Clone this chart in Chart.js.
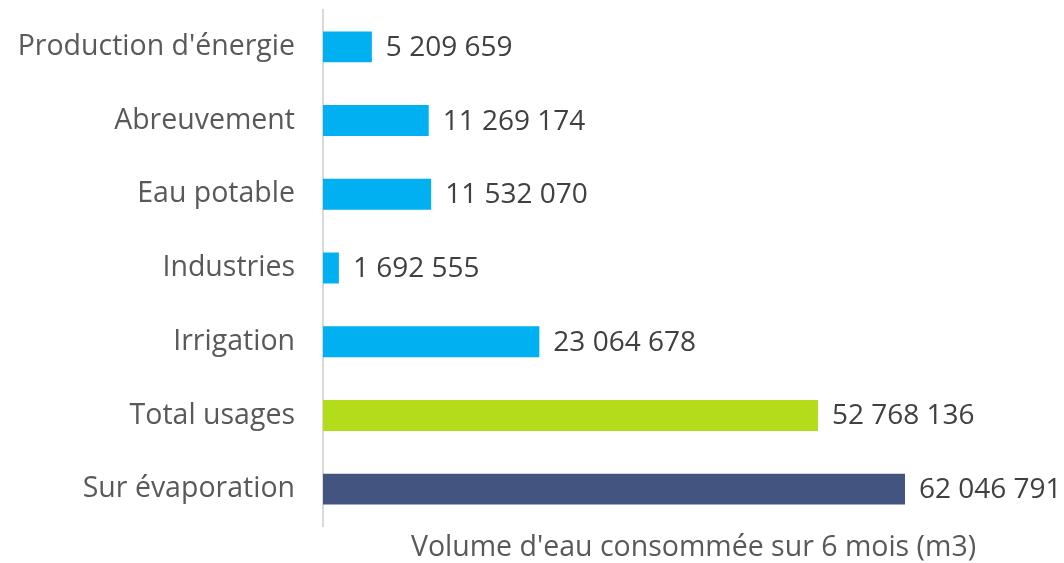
<!DOCTYPE html>
<html>
<head>
<meta charset="utf-8">
<script src="https://cdn.jsdelivr.net/npm/chart.js@4/dist/chart.umd.min.js"></script>
<style>
  html, body { margin: 0; padding: 0; background: #fff; }
  #wrap { width: 1064px; height: 563px; }
</style>
</head>
<body>
<div id="wrap"><canvas id="chart"></canvas></div>
<script>
/* values */
var categories = ["Production d'énergie", "Abreuvement", "Eau potable", "Industries", "Irrigation", "Total usages", "Sur évaporation"];
var volumes = [5209659, 11269174, 11532070, 1692555, 23064678, 52768136, 62046791];
var barColors = ["#00b0f0", "#00b0f0", "#00b0f0", "#00b0f0", "#00b0f0", "#b3dc1a", "#42547f"];
var axisTitle = "Volume d'eau consommée sur 6 mois (m3)";

var FONT = "'Open Sans', sans-serif";

function fmt(n) {
	return String(n).replace(/\B(?=(\d{3})+(?!\d))/g, " ");
}

/* value next to the end of each bar */
var valueLabels = {
	id: 'valueLabels',
	afterDatasetsDraw: function(chart) {
		var ctx = chart.ctx;
		var meta = chart.getDatasetMeta(0);
		ctx.save();
		ctx.font = "28px " + FONT;
		ctx.fillStyle = "#404040";
		ctx.textBaseline = "middle";
		ctx.textAlign = "left";
		meta.data.forEach(function(bar, i) {
			ctx.fillText(fmt(volumes[i]), bar.x + 14, bar.y + 1);
		});
		ctx.restore();
	}
};

var ctx = document.getElementById("chart");
var myChart = new Chart(ctx, {
	type: 'bar',
	data: {
		labels: categories,
		datasets: [{
			data: volumes,
			backgroundColor: barColors,
			barPercentage: 0.42,
			categoryPercentage: 1
		}]
	},
	options: {
		indexAxis: 'y',
		responsive: true,
		maintainAspectRatio: false,
		animation: false,
		layout: { padding: { top: 10, right: 0, left: 5, bottom: 0 } },
		plugins: {
			legend: { display: false },
			tooltip: { enabled: false }
		},
		scales: {
			x: {
				min: 0,
				max: 79000000,
				grid: { display: false },
				border: { display: false },
				ticks: { display: false },
				title: {
					display: true,
					text: axisTitle,
					color: "#595959",
					font: { family: FONT, size: 28.5, lineHeight: 1 },
					padding: { top: 8, bottom: 1 }
				},
				afterFit: function(scale) { scale.height = 37; }
			},
			y: {
				grid: { display: true, drawOnChartArea: false, drawTicks: true, tickLength: 45, tickColor: 'rgba(0,0,0,0)' },
				border: { display: true, color: "#d9d9d9", width: 2 },
				ticks: {
					color: "#595959",
					font: { family: FONT, size: 28.5 },
					padding: -17
				},
				afterFit: function(scale) { scale.width = 318; }
			}
		}
	},
	plugins: [valueLabels]
});
</script>
</body>
</html>
